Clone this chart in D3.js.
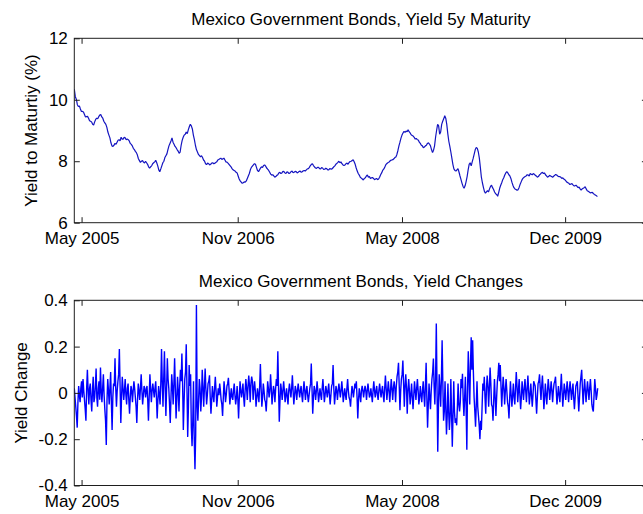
<!DOCTYPE html>
<html>
<head>
<meta charset="utf-8">
<script src="https://cdn.jsdelivr.net/npm/d3@7"></script>
<style>
  html, body { margin: 0; padding: 0; background: #fff; overflow: hidden; }
  svg { display: block; }
</style>
</head>
<body>
<svg id="fig" width="643" height="514"></svg>
<script>
// ---- data ----------------------------------------------------------
// time axis limits and tick dates
const xDomain = ["2005-04-18", "2010-09-10"];
const xTickDates = ["2005-05-13", "2006-11-01", "2008-05-19", "2009-12-01"];

// 5y yield to maturity (%), one observation every 3.5 days (84 h)
const yieldStart = "2005-04-18";
const yieldStepHours = 84;
const yieldValues = [
  10.35, 10.10, 10.02, 9.84, 9.78, 9.80, 9.70, 9.62, 9.62, 9.60, 9.52, 9.44, 9.45, 9.46, 9.40, 9.32, 9.30, 9.28, 9.20, 9.18,
  9.28, 9.36, 9.40, 9.38, 9.45, 9.50, 9.52, 9.44, 9.40, 9.30, 9.25, 9.20, 9.10, 8.95, 8.85, 8.76, 8.60, 8.50, 8.48, 8.52,
  8.58, 8.55, 8.62, 8.68, 8.70, 8.66, 8.78, 8.72, 8.72, 8.78, 8.76, 8.70, 8.72, 8.70, 8.66, 8.58, 8.55, 8.50, 8.42, 8.38,
  8.32, 8.28, 8.20, 8.08, 8.02, 7.96, 8.00, 8.02, 7.97, 7.94, 8.00, 7.95, 7.90, 7.82, 7.78, 7.82, 7.85, 7.92, 7.95, 7.98,
  8.03, 7.95, 7.85, 7.72, 7.66, 7.75, 7.85, 7.95, 8.00, 8.12, 8.18, 8.24, 8.38, 8.50, 8.58, 8.66, 8.76, 8.62, 8.55, 8.48,
  8.44, 8.38, 8.33, 8.26, 8.30, 8.52, 8.68, 8.78, 8.85, 8.88, 8.95, 8.90, 9.02, 9.12, 9.20, 9.15, 9.05, 8.85, 8.70, 8.52,
  8.38, 8.30, 8.22, 8.18, 8.14, 8.18, 8.12, 8.04, 8.00, 7.92, 7.89, 7.94, 7.92, 7.88, 7.90, 7.94, 7.95, 7.92, 7.93, 7.96,
  7.98, 8.04, 8.06, 8.08, 8.10, 8.06, 8.08, 8.10, 8.04, 7.98, 7.97, 7.94, 7.90, 7.86, 7.82, 7.76, 7.72, 7.70, 7.68, 7.64,
  7.62, 7.52, 7.42, 7.36, 7.32, 7.28, 7.30, 7.33, 7.32, 7.36, 7.44, 7.52, 7.60, 7.72, 7.80, 7.84, 7.88, 7.92, 7.90, 7.80,
  7.70, 7.66, 7.72, 7.78, 7.82, 7.80, 7.86, 7.88, 7.84, 7.78, 7.74, 7.70, 7.64, 7.58, 7.55, 7.56, 7.52, 7.48, 7.50, 7.54,
  7.56, 7.62, 7.64, 7.60, 7.62, 7.67, 7.66, 7.62, 7.60, 7.66, 7.64, 7.60, 7.62, 7.66, 7.68, 7.63, 7.64, 7.67, 7.66, 7.62,
  7.64, 7.67, 7.68, 7.64, 7.66, 7.69, 7.70, 7.68, 7.72, 7.75, 7.76, 7.80, 7.86, 7.90, 7.92, 7.86, 7.82, 7.78, 7.77, 7.80,
  7.80, 7.76, 7.75, 7.79, 7.78, 7.73, 7.74, 7.77, 7.76, 7.72, 7.72, 7.76, 7.75, 7.74, 7.78, 7.82, 7.85, 7.90, 7.93, 7.96,
  8.00, 7.95, 7.98, 7.92, 7.88, 7.86, 7.88, 7.92, 7.94, 7.90, 7.96, 7.99, 8.00, 8.02, 8.05, 7.98, 7.90, 7.78, 7.68, 7.60,
  7.55, 7.48, 7.45, 7.42, 7.39, 7.44, 7.46, 7.52, 7.55, 7.48, 7.50, 7.44, 7.46, 7.47, 7.44, 7.40, 7.42, 7.44, 7.40, 7.42,
  7.48, 7.56, 7.62, 7.70, 7.74, 7.80, 7.88, 7.92, 7.95, 7.96, 8.00, 8.03, 8.04, 8.05, 8.08, 8.12, 8.14, 8.22, 8.35, 8.50,
  8.62, 8.75, 8.85, 8.92, 8.97, 8.94, 8.98, 8.96, 9.02, 8.96, 8.92, 8.86, 8.84, 8.82, 8.78, 8.72, 8.74, 8.70, 8.69, 8.62,
  8.58, 8.52, 8.50, 8.44, 8.46, 8.50, 8.52, 8.58, 8.60, 8.56, 8.50, 8.38, 8.28, 8.36, 8.50, 8.78, 9.00, 9.20, 9.15, 8.88,
  8.95, 9.20, 9.30, 9.38, 9.48, 9.40, 9.20, 8.90, 8.65, 8.48, 8.30, 8.10, 7.90, 7.75, 7.70, 7.68, 7.72, 7.76, 7.65, 7.52,
  7.40, 7.28, 7.18, 7.12, 7.20, 7.34, 7.50, 7.72, 7.90, 7.95, 7.85, 7.98, 8.10, 8.24, 8.38, 8.45, 8.42, 8.30, 8.10, 7.80,
  7.48, 7.30, 7.15, 7.02, 6.96, 7.00, 7.04, 7.00, 7.10, 7.18, 7.22, 7.14, 7.08, 7.00, 6.94, 6.92, 6.86, 6.98, 7.12, 7.22,
  7.30, 7.40, 7.46, 7.55, 7.62, 7.66, 7.62, 7.56, 7.52, 7.44, 7.32, 7.22, 7.14, 7.10, 7.08, 7.06, 7.07, 7.14, 7.24, 7.32,
  7.40, 7.45, 7.48, 7.50, 7.52, 7.56, 7.55, 7.52, 7.60, 7.58, 7.56, 7.60, 7.58, 7.54, 7.52, 7.48, 7.50, 7.55, 7.58, 7.62,
  7.64, 7.60, 7.62, 7.56, 7.52, 7.48, 7.50, 7.54, 7.52, 7.50, 7.48, 7.51, 7.54, 7.57, 7.55, 7.52, 7.50, 7.50, 7.48, 7.44,
  7.46, 7.42, 7.40, 7.36, 7.32, 7.30, 7.28, 7.24, 7.26, 7.27, 7.23, 7.20, 7.20, 7.22, 7.18, 7.14, 7.16, 7.10, 7.06, 7.10,
  7.12, 7.14, 7.17, 7.10, 7.04, 7.02, 7.00, 6.97, 6.98, 6.99, 6.95, 6.92, 6.90, 6.88, 6.85
];

// yield changes (percentage points), one value every 2.5 days (60 h)
const changeStart = "2005-04-18";
const changeStepHours = 60;
const changeValues = [
  0.02, -0.02, -0.06, -0.10, -0.15, -0.04, 0.03, -0.01, -0.04, 0.02, 0.05, -0.02, 0.06, 0.01, -0.03, -0.07, -0.12, 0.02, 0.10, 0.01,
  -0.05, 0.02, 0.04, -0.03, -0.08, 0.01, 0.07, -0.04, -0.02, 0.03, 0.105, -0.02, -0.06, 0.02, 0.05, -0.03, 0.11, 0.01, -0.04, 0.02,
  0.08, -0.01, -0.07, -0.12, -0.225, -0.03, 0.06, 0.01, -0.05, 0.02, 0.09, -0.04, -0.16, -0.02, 0.04, 0.03, 0.15, 0.02, -0.06, 0.01,
  0.05, 0.08, 0.19, 0.03, -0.13, -0.02, 0.07, 0.02, -0.03, 0.01, 0.06, -0.01, -0.05, 0.02, 0.04, -0.03, -0.09, -0.02, 0.03, 0.01,
  -0.04, 0.01, 0.05, 0.02, -0.02, -0.06, -0.13, -0.03, 0.04, 0.01, -0.03, 0.02, 0.08, 0.01, -0.05, -0.01, 0.03, 0.02, -0.02, 0.01,
  0.03, -0.03, -0.12, -0.02, 0.08, 0.02, -0.04, 0.01, 0.04, 0.01, -0.02, 0.02, 0.05, -0.02, -0.11, -0.03, 0.03, -0.01, -0.05, 0.04,
  0.19, 0.05, -0.06, 0.06, 0.18, 0.03, -0.10, 0.02, 0.15, 0.06, 0.02, -0.05, -0.13, -0.02, 0.08, 0.03, -0.05, 0.04, 0.15, 0.02,
  -0.11, -0.03, 0.07, 0.01, -0.08, 0.03, 0.10, 0.05, 0.17, 0.04, -0.16, -0.04, 0.06, 0.09, 0.21, 0.02, -0.19, -0.06, 0.12, 0.03,
  0.08, -0.15, -0.23, -0.12, 0.05, -0.20, -0.33, -0.18, 0.38, -0.05, -0.12, -0.03, 0.06, 0.02, -0.08, -0.02, 0.10, 0.03, -0.06, 0.02,
  0.105, 0.02, -0.05, -0.01, 0.04, 0.05, 0.076, -0.02, -0.09, -0.03, 0.03, -0.01, -0.04, 0.02, 0.07, 0.01, -0.06, -0.02, 0.02, -0.01,
  0.04, 0.01, -0.03, -0.05, -0.10, -0.02, 0.05, 0.01, -0.04, -0.01, 0.03, 0.04, 0.065, 0.01, -0.05, -0.01, 0.02, -0.02, -0.03, 0.01,
  0.04, -0.01, -0.05, -0.02, 0.03, -0.03, -0.11, -0.02, 0.05, 0.01, -0.02, 0.01, 0.04, -0.02, -0.06, 0.01, 0.06, 0.02, -0.03, 0.03,
  0.075, 0.03, -0.04, 0.04, 0.07, 0.05, -0.03, 0.02, 0.05, 0.01, -0.06, -0.02, 0.02, -0.01, -0.04, 0.03, 0.125, 0.02, -0.06, -0.02,
  0.04, 0.01, -0.03, -0.04, -0.08, -0.02, 0.05, 0.02, -0.02, 0.01, 0.08, 0.02, -0.05, -0.01, 0.03, 0.01, -0.04, 0.02, 0.06, 0.03,
  0.18, 0.02, -0.125, -0.03, 0.04, 0.01, -0.03, 0.01, 0.05, 0.01, -0.04, -0.01, 0.02, -0.02, -0.05, 0.01, 0.04, 0.01, -0.02, 0.02,
  0.076, 0.01, -0.05, -0.01, 0.03, 0.01, -0.03, 0.01, 0.04, 0.01, -0.02, 0.01, 0.03, -0.01, -0.04, 0.01, 0.05, 0.01, -0.03, 0.01,
  0.03, -0.01, -0.04, -0.01, 0.02, 0.04, 0.127, 0.02, -0.09, -0.02, 0.03, 0.01, -0.03, 0.01, 0.05, 0.01, -0.04, -0.01, 0.02, -0.01,
  -0.03, 0.02, 0.06, 0.01, -0.04, -0.01, 0.03, 0.01, -0.02, 0.01, 0.04, -0.01, -0.05, -0.01, 0.03, 0.04, 0.12, 0.02, -0.05, -0.01,
  0.03, 0.01, -0.03, 0.01, 0.04, 0.01, -0.02, 0.01, 0.05, 0.01, -0.04, -0.01, 0.02, -0.01, -0.03, 0.02, 0.06, 0.01, -0.02, -0.03,
  -0.06, -0.01, 0.03, 0.01, -0.02, 0.01, 0.04, 0.02, 0.05, -0.02, -0.11, -0.03, 0.02, -0.01, -0.04, 0.01, 0.03, 0.01, -0.02, 0.01,
  0.03, 0.01, -0.03, 0.01, 0.04, 0.01, -0.02, -0.01, 0.02, -0.01, -0.04, 0.01, 0.05, 0.01, -0.02, 0.01, 0.03, -0.01, -0.03, 0.01,
  0.04, 0.01, -0.02, 0.01, 0.03, -0.01, -0.04, 0.02, 0.075, 0.02, -0.03, 0.01, 0.05, 0.01, -0.04, 0.01, 0.06, 0.02, -0.03, 0.02,
  0.05, 0.02, -0.04, 0.03, 0.07, 0.09, 0.13, 0.03, -0.075, 0.01, 0.06, 0.08, 0.14, 0.04, -0.06, 0.03, 0.08, 0.02, -0.09, 0.01,
  0.06, 0.01, -0.05, -0.01, 0.04, -0.02, -0.07, -0.01, 0.05, 0.01, -0.03, 0.02, 0.06, 0.01, -0.05, -0.02, 0.03, -0.01, -0.04, 0.01,
  0.05, -0.01, -0.06, 0.03, 0.13, -0.02, -0.15, -0.05, 0.04, -0.02, -0.07, 0.01, 0.06, 0.09, 0.148, 0.03, -0.05, 0.06, 0.30, 0.02,
  -0.254, -0.05, 0.08, 0.02, -0.06, 0.06, 0.227, 0.04, -0.12, -0.08, 0.05, -0.06, -0.18, -0.10, 0.04, -0.08, -0.16, -0.10, 0.06, -0.09,
  -0.233, -0.10, 0.05, -0.08, -0.13, -0.11, -0.14, -0.06, 0.04, -0.05, -0.08, -0.04, 0.06, 0.02, 0.083, -0.03, -0.10, -0.02, 0.07, -0.06,
  -0.245, 0.02, 0.18, 0.06, -0.05, 0.12, 0.24, 0.10, 0.227, 0.09, -0.02, -0.08, -0.146, -0.05, 0.05, -0.06, -0.10, -0.14, -0.20, -0.12,
  -0.16, -0.06, 0.04, 0.01, 0.07, -0.02, -0.09, 0.02, 0.075, 0.03, -0.06, 0.02, 0.11, 0.04, -0.05, -0.06, -0.12, -0.03, 0.06, -0.02,
  -0.10, -0.02, 0.05, 0.08, 0.13, 0.05, 0.12, 0.03, -0.06, 0.01, 0.07, 0.02, -0.05, 0.01, 0.06, 0.01, -0.04, -0.06, -0.11, -0.02,
  0.05, -0.01, -0.06, -0.01, 0.04, -0.02, -0.05, 0.02, 0.09, 0.03, -0.04, 0.01, 0.06, -0.01, -0.07, -0.02, 0.05, 0.01, -0.03, 0.02,
  0.06, 0.01, -0.04, 0.02, 0.075, 0.01, -0.05, -0.01, 0.04, -0.01, -0.06, -0.01, 0.05, 0.04, 0.03, -0.03, -0.09, -0.02, 0.04, 0.05,
  0.08, 0.02, -0.03, 0.03, 0.075, 0.01, -0.07, -0.02, 0.04, -0.01, -0.05, 0.01, 0.06, 0.02, -0.03, 0.01, 0.05, 0.01, -0.04, 0.01,
  0.04, 0.05, 0.07, 0.01, -0.05, -0.01, 0.03, -0.01, -0.04, 0.02, 0.083, 0.01, -0.06, -0.01, 0.04, 0.01, -0.03, 0.01, 0.05, 0.01,
  -0.04, 0.01, 0.05, 0.01, -0.03, 0.01, 0.04, -0.02, -0.07, -0.02, 0.03, 0.04, 0.05, -0.02, -0.08, -0.02, 0.04, 0.07, 0.10, 0.02,
  -0.05, 0.01, 0.06, 0.01, -0.04, 0.01, 0.05, 0.01, -0.03, 0.02, 0.06, 0.01, -0.05, -0.07, -0.08, -0.01, 0.06, 0.02, -0.03, -0.01, 0.02
];

const yieldTicks = [6, 8, 10, 12];
const changeTicks = [-0.4, -0.2, 0, 0.2, 0.4];

// ---- layout --------------------------------------------------------
const FONT = "'Liberation Sans', Arial, Helvetica, sans-serif";
const FS = 17;
const TICK = 5.5;
const AXIS_COLOR = "#1e1e1e";
const plotLeft = 74.3, plotRight = 647.4;

const panels = [
  {
    title: "Mexico Government Bonds, Yield 5y Maturity",
    ylabel: "Yield to Maturtiy (%)",
    start: yieldStart, stepHours: yieldStepHours, values: yieldValues,
    yDomain: [6, 12], yTicks: yieldTicks, color: "#1414c0", width: 1.2,
    top: 38.3, bottom: 222.7, ylabelX: 36.5
  },
  {
    title: "Mexico Government Bonds, Yield Changes",
    ylabel: "Yield Change",
    start: changeStart, stepHours: changeStepHours, values: changeValues,
    yDomain: [-0.4, 0.4], yTicks: changeTicks, color: "#0000ff", width: 1.4,
    top: 300.3, bottom: 485.5, ylabelX: 26.5
  }
];

const parse = d3.utcParse("%Y-%m-%d");
const x = d3.scaleUtc()
  .domain(xDomain.map(parse))
  .range([plotLeft, plotRight]);
const tickDates = xTickDates.map(parse);
const fmtDate = d3.utcFormat("%b %Y");
const fmtNum = d => (d === 0 ? "0" : String(d));

const svg = d3.select("#fig");
svg.append("rect").attr("width", 643).attr("height", 514).attr("fill", "#fff");

panels.forEach((p, k) => {
  const y = d3.scaleLinear().domain(p.yDomain).range([p.bottom, p.top]);
  const t0 = parse(p.start);
  const series = p.values.map((v, i) => ({ date: d3.utcHour.offset(t0, i * p.stepHours), v }));

  const g = svg.append("g").attr("class", "panel-" + k);

  // clip region for the series
  const clipId = "clip-" + k;
  g.append("clipPath").attr("id", clipId)
    .append("rect")
    .attr("x", plotLeft).attr("y", p.top)
    .attr("width", plotRight - plotLeft).attr("height", p.bottom - p.top);

  // series line
  g.append("path")
    .datum(series)
    .attr("clip-path", `url(#${clipId})`)
    .attr("fill", "none")
    .attr("stroke", p.color)
    .attr("stroke-width", p.width)
    .attr("stroke-linejoin", "bevel")
    .attr("d", d3.line().x(d => x(d.date)).y(d => y(d.v)));

  // frame
  g.append("rect")
    .attr("x", plotLeft).attr("y", p.top)
    .attr("width", plotRight - plotLeft).attr("height", p.bottom - p.top)
    .attr("fill", "none").attr("stroke", AXIS_COLOR).attr("stroke-width", 1);

  const styleAxis = sel => {
    sel.select(".domain").remove();
    sel.selectAll(".tick line").attr("stroke", AXIS_COLOR);
    sel.attr("font-family", FONT).attr("font-size", FS);
    sel.selectAll("text").attr("fill", "#000");
  };

  // bottom axis with labels
  g.append("g")
    .attr("transform", `translate(0,${p.bottom})`)
    .call(d3.axisBottom(x).tickValues(tickDates).tickFormat(fmtDate).tickSize(-TICK).tickSizeOuter(0))
    .call(styleAxis)
    .call(s => s.selectAll("text").attr("y", 21.5).attr("dy", null));

  // top axis (ticks only)
  g.append("g")
    .attr("transform", `translate(0,${p.top})`)
    .call(d3.axisTop(x).tickValues(tickDates).tickFormat("").tickSize(-TICK).tickSizeOuter(0))
    .call(styleAxis);

  // left axis with labels
  g.append("g")
    .attr("transform", `translate(${plotLeft},0)`)
    .call(d3.axisLeft(y).tickValues(p.yTicks).tickFormat(fmtNum).tickSize(-TICK).tickSizeOuter(0))
    .call(styleAxis)
    .call(s => s.selectAll("text").attr("x", -6.5).attr("dy", "0.32em"));

  // right axis (ticks only)
  g.append("g")
    .attr("transform", `translate(${plotRight},0)`)
    .call(d3.axisRight(y).tickValues(p.yTicks).tickFormat("").tickSize(-TICK).tickSizeOuter(0))
    .call(styleAxis);

  // title
  g.append("text")
    .attr("x", (plotLeft + plotRight) / 2)
    .attr("y", p.top - 13.5)
    .attr("text-anchor", "middle")
    .attr("font-family", FONT).attr("font-size", FS)
    .attr("fill", "#000")
    .text(p.title);

  // y label
  g.append("text")
    .attr("transform", `translate(${p.ylabelX},${(p.top + p.bottom) / 2}) rotate(-90)`)
    .attr("text-anchor", "middle")
    .attr("font-family", FONT).attr("font-size", FS)
    .attr("fill", "#000")
    .text(p.ylabel);
});
</script>
</body>
</html>
